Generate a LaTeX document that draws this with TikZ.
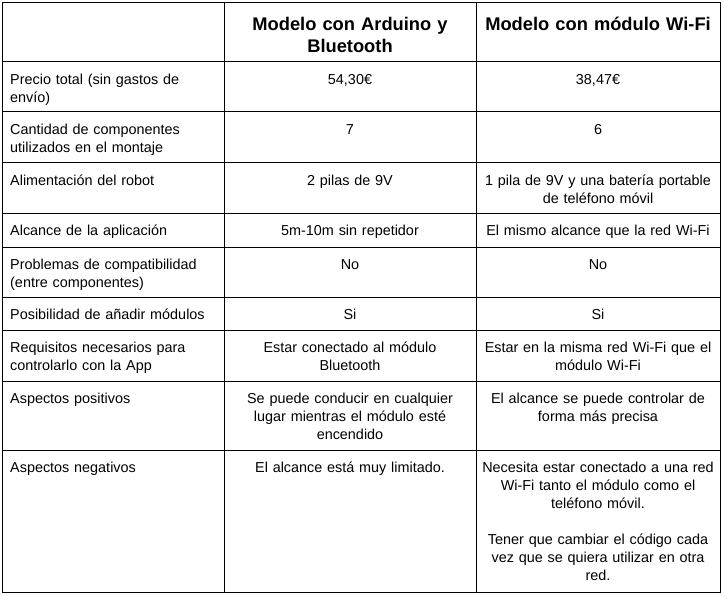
\documentclass[tikz,border=0pt]{standalone}
\usepackage{fontspec}
\setmainfont{Liberation Sans}
\usetikzlibrary{positioning}
\newcommand{\cellfont}{\fontsize{14.4pt}{18pt}\selectfont}
\newcommand{\headfont}{\fontsize{18.3pt}{22.5pt}\selectfont\bfseries}
\tikzset{
  gridline/.style={line width=1pt, black},
  leftcell/.style={anchor=north west, inner sep=0pt, text width=210pt, align=left, font=\cellfont, execute at begin node=\strut},
  midcell/.style={anchor=north, inner sep=0pt, text width=244pt, align=center, font=\cellfont, execute at begin node=\strut},
  wificell/.style={anchor=north, inner sep=0pt, text width=238pt, align=center, font=\cellfont, execute at begin node=\strut},
  headcell/.style={anchor=north, inner sep=0pt, text width=238pt, align=center, font=\headfont, execute at begin node=\strut}
}
\begin{document}
\begin{tikzpicture}[x=1pt,y=-1pt]
\useasboundingbox (0,0) rectangle (725,596);

\coordinate (TL) at (2,3);
\coordinate (TR) at (720,3);
\coordinate (BL) at (2,592);
\coordinate (BR) at (720,592);
\coordinate (C1) at (224,3);
\coordinate (C1') at (224,592);
\coordinate (C2) at (476,3);
\coordinate (C2') at (476,592);

% grid
\draw[gridline] (TL) rectangle (BR);
\draw[gridline] (C1) -- (C1');
\draw[gridline] (C2) -- (C2');
\draw[gridline] (2,62) -- (720,62);
\draw[gridline] (2,112) -- (720,112);
\draw[gridline] (2,163) -- (720,163);
\draw[gridline] (2,213) -- (720,213);
\draw[gridline] (2,247) -- (720,247);
\draw[gridline] (2,297) -- (720,297);
\draw[gridline] (2,330) -- (720,330);
\draw[gridline] (2,381) -- (720,381);
\draw[gridline] (2,450) -- (720,450);

% header
\node[headcell] (hArduino) at (350,14.25) {Modelo con Arduino y\\Bluetooth};
\node[headcell] (hWifi) at (598,14.25) {Modelo con módulo Wi-Fi};

% first column
\node[leftcell] (lPrecio) at (10,71.4) {Precio total (sin gastos de\\envío)};
\node[leftcell] (lCantidad) at (10,121.4) {Cantidad de componentes\\utilizados en el montaje};
\node[leftcell] (lAlim) at (10,172.4) {Alimentación del robot};
\node[leftcell] (lAlcance) at (10,222.4) {Alcance de la aplicación};
\node[leftcell] (lProblemas) at (10,256.4) {Problemas de compatibilidad\\(entre componentes)};
\node[leftcell] (lModulos) at (10,306.4) {Posibilidad de añadir módulos};
\node[leftcell] (lRequisitos) at (10,339.4) {Requisitos necesarios para\\controlarlo con la App};
\node[leftcell] (lPositivos) at (10,390.4) {Aspectos positivos};
\node[leftcell] (lNegativos) at (10,459.4) {Aspectos negativos};

% Arduino y Bluetooth
\node[midcell] (mPrecio) at (350,71.4) {54,30€};
\node[midcell] (mCantidad) at (350,121.4) {7};
\node[midcell] (mAlim) at (350,172.4) {2 pilas de 9V};
\node[midcell] (mAlcance) at (350,222.4) {5m-10m sin repetidor};
\node[midcell] (mProblemas) at (350,256.4) {No};
\node[midcell] (mModulos) at (350,306.4) {Si};
\node[midcell] (mRequisitos) at (350,339.4) {Estar conectado al módulo\\Bluetooth};
\node[midcell] (mPositivos) at (350,390.4) {Se puede conducir en cualquier\\lugar mientras el módulo esté\\encendido};
\node[midcell] (mNegativos) at (350,459.4) {El alcance está muy limitado.};

% modulo Wi-Fi
\node[wificell] (wPrecio) at (598,71.4) {38,47€};
\node[wificell] (wCantidad) at (598,121.4) {6};
\node[wificell] (wAlim) at (598,172.4) {1 pila de 9V y una batería portable\\de teléfono móvil};
\node[wificell] (wAlcance) at (598,222.4) {El mismo alcance que la red Wi-Fi};
\node[wificell] (wProblemas) at (598,256.4) {No};
\node[wificell] (wModulos) at (598,306.4) {Si};
\node[wificell] (wRequisitos) at (598,339.4) {Estar en la misma red Wi-Fi que el\\módulo Wi-Fi};
\node[wificell] (wPositivos) at (598,390.4) {El alcance se puede controlar de\\forma más precisa};
\node[wificell] (wNegativos) at (598,459.4) {Necesita estar conectado a una red\\Wi-Fi tanto el módulo como el\\teléfono móvil.\\[18pt]Tener que cambiar el código cada\\vez que se quiera utilizar en otra\\red.};
\end{tikzpicture}
\end{document}
